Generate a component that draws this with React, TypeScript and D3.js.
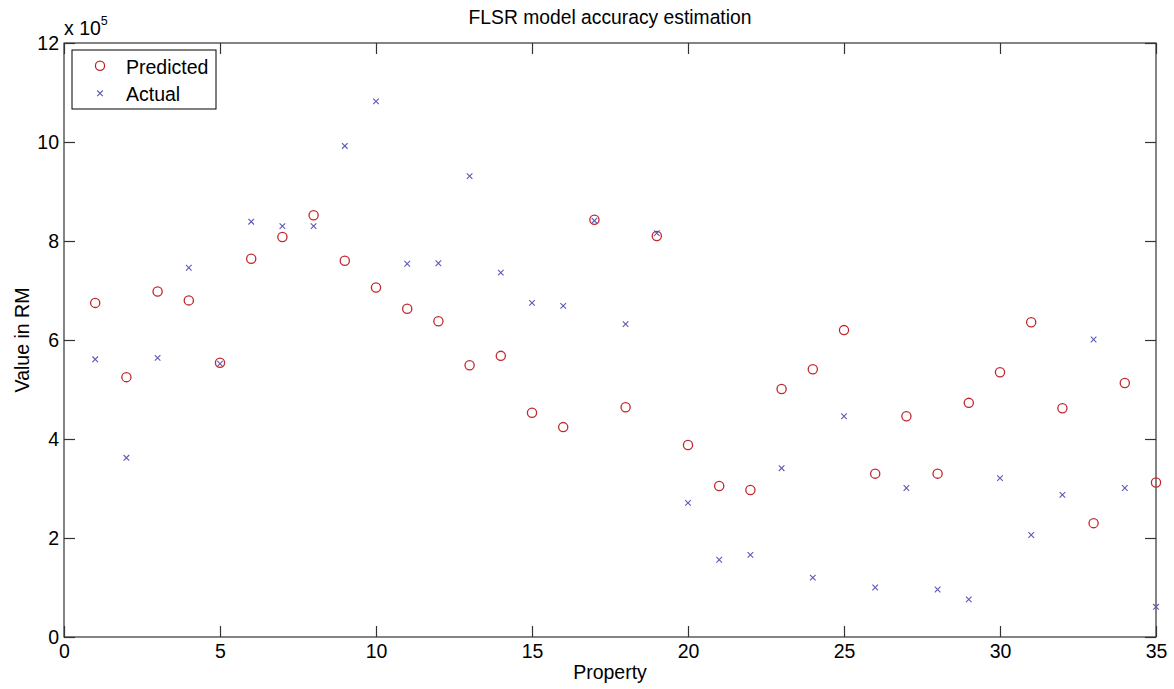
import React, { useEffect, useRef } from 'react';
import * as d3 from 'd3';

// property index 1..35
const properties: number[] = d3.range(1, 36);

// values in units of 1e5 RM
const predicted: number[] = [
  6.75, 5.25, 6.98, 6.80, 5.54, 7.64, 8.08, 8.52, 7.60, 7.06,
  6.63, 6.38, 5.49, 5.68, 4.53, 4.24, 8.43, 4.64, 8.10, 3.88,
  3.05, 2.97, 5.01, 5.41, 6.20, 3.30, 4.46, 3.30, 4.73, 5.35,
  6.36, 4.62, 2.30, 5.13, 3.12,
];
const actual: number[] = [
  5.61, 3.62, 5.64, 7.46, 5.52, 8.39, 8.30, 8.30, 9.92, 10.82,
  7.54, 7.55, 9.31, 7.36, 6.75, 6.69, 8.41, 6.32, 8.16, 2.71,
  1.56, 1.66, 3.41, 1.20, 4.46, 1.00, 3.01, 0.96, 0.76, 3.21,
  2.06, 2.87, 6.01, 3.01, 0.61,
];

const xTicks = [0, 5, 10, 15, 20, 25, 30, 35];
const yTicks = [0, 2, 4, 6, 8, 10, 12];

const W = 1174;
const H = 689;
const FONT = 'Arial, "Liberation Sans", sans-serif';
const FS = '19.5px';
const RED = '#c0282d';
const BLUE = '#5a5ab8';

const App = () => {
  const svgRef = useRef<SVGSVGElement>(null);

  useEffect(() => {
    const margin = { top: 43, right: 18, bottom: 52, left: 64 };
    const width = W - margin.left - margin.right;
    const height = H - margin.top - margin.bottom;

    const root = d3.select(svgRef.current);
    root.selectAll('*').remove();

    const svg = root.append('g')
      .attr('transform', `translate(${margin.left},${margin.top})`);

    const x = d3.scaleLinear().domain([0, 35]).range([0, width]);
    const y = d3.scaleLinear().domain([0, 12]).range([height, 0]);

    // Axes box
    svg.append('rect')
      .attr('width', width).attr('height', height)
      .attr('fill', 'none').attr('stroke', '#333').attr('stroke-width', 1.2);

    const tickLen = 11;
    const styleAxis = (g: any) => {
      g.select('.domain').remove();
      g.selectAll('line').attr('stroke', '#333').attr('stroke-width', 1.2);
      g.selectAll('text')
        .style('font-family', FONT)
        .style('font-size', FS)
        .attr('fill', '#000');
    };

    svg.append('g')
      .attr('transform', `translate(0,${height})`)
      .call(d3.axisBottom(x).tickValues(xTicks).tickSize(-tickLen).tickPadding(7).tickFormat(d3.format('d')))
      .call(styleAxis);
    svg.append('g')
      .call(d3.axisTop(x).tickValues(xTicks).tickSize(-tickLen).tickFormat(() => ''))
      .call(styleAxis);
    svg.append('g')
      .call(d3.axisLeft(y).tickValues(yTicks).tickSize(-tickLen).tickPadding(5).tickFormat(d3.format('d')))
      .call(styleAxis);
    svg.append('g')
      .attr('transform', `translate(${width},0)`)
      .call(d3.axisRight(y).tickValues(yTicks).tickSize(-tickLen).tickFormat(() => ''))
      .call(styleAxis);

    // Exponent label
    const exp = svg.append('text')
      .attr('x', 0).attr('y', -8)
      .style('font-family', FONT).style('font-size', FS);
    exp.append('tspan').text('x 10');
    exp.append('tspan').attr('dy', -10).style('font-size', '12.5px').text('5');

    // Title and labels
    svg.append('text')
      .attr('x', width / 2).attr('y', -19)
      .attr('text-anchor', 'middle')
      .style('font-family', FONT).style('font-size', '19.3px')
      .text('FLSR model accuracy estimation');

    svg.append('text')
      .attr('x', width / 2).attr('y', height + 42)
      .attr('text-anchor', 'middle')
      .style('font-family', FONT).style('font-size', FS)
      .text('Property');

    svg.append('text')
      .attr('transform', `translate(${-35},${height / 2}) rotate(-90)`)
      .attr('text-anchor', 'middle')
      .style('font-family', FONT).style('font-size', FS)
      .text('Value in RM');

    // Markers
    const cross = (g: any, cx: number, cy: number, s = 2.8) => {
      g.append('path')
        .attr('d', `M${cx - s},${cy - s}L${cx + s},${cy + s}M${cx - s},${cy + s}L${cx + s},${cy - s}`)
        .attr('stroke', BLUE).attr('stroke-width', 1.1).attr('fill', 'none');
    };

    const pts = svg.append('g');
    properties.forEach((p, i) => {
      cross(pts, x(p), y(actual[i]));
    });
    pts.selectAll('circle.pred')
      .data(properties)
      .enter()
      .append('circle')
      .attr('class', 'pred')
      .attr('cx', d => x(d))
      .attr('cy', (d, i) => y(predicted[i]))
      .attr('r', 4.6)
      .attr('fill', 'none')
      .attr('stroke', RED)
      .attr('stroke-width', 1.3);

    // Legend
    const lg = svg.append('g').attr('transform', 'translate(8,7)');
    lg.append('rect')
      .attr('width', 144).attr('height', 59)
      .attr('fill', '#fff').attr('stroke', '#000').attr('stroke-width', 1);
    lg.append('circle')
      .attr('cx', 28).attr('cy', 15.7).attr('r', 4.6)
      .attr('fill', 'none').attr('stroke', RED).attr('stroke-width', 1.3);
    cross(lg, 28, 43.3);
    lg.append('text').attr('x', 54).attr('y', 24)
      .style('font-family', FONT).style('font-size', FS).text('Predicted');
    lg.append('text').attr('x', 54).attr('y', 51)
      .style('font-family', FONT).style('font-size', FS).text('Actual');
  }, []);

  return (
    <svg ref={svgRef} width={W} height={H}
      style={{ position: 'absolute', left: 0, top: 0, background: '#fff' }} />
  );
};

export default App;
